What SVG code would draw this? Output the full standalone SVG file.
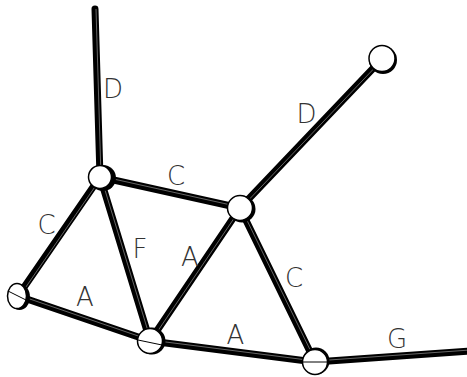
<svg xmlns="http://www.w3.org/2000/svg" width="467" height="377" viewBox="0 0 467 377">
<style>
.bar{stroke:#000;stroke-width:7;stroke-linecap:round;fill:none}
.hl{stroke:#fff;stroke-width:0.8;stroke-opacity:0.5;fill:none}
.sh{fill:#000}
.nd{fill:#fff;stroke:#000;stroke-width:1.5}
.ln{stroke:#000;stroke-width:1;fill:none}
.lbl{font-family:"DejaVu Sans","Liberation Sans",sans-serif;font-weight:200;font-size:26px;fill:#333;text-anchor:middle;dominant-baseline:central}
</style>
<rect width="467" height="377" fill="#fff"/>
<g id="connectors">
<line class="bar" x1="95" y1="9" x2="100" y2="177"/>
<line class="bar" x1="100" y1="177" x2="240" y2="208"/>
<line class="bar" x1="100" y1="177" x2="18" y2="296"/>
<line class="bar" x1="100" y1="177" x2="150" y2="341"/>
<line class="bar" x1="18" y1="296" x2="150" y2="341"/>
<line class="bar" x1="150" y1="341" x2="240" y2="208"/>
<line class="bar" x1="240" y1="208" x2="382" y2="59"/>
<line class="bar" x1="240" y1="208" x2="315" y2="362"/>
<line class="bar" x1="150" y1="341" x2="315" y2="362"/>
<line class="bar" x1="315" y1="362" x2="470" y2="351"/>
<line class="hl" x1="96" y1="9" x2="101" y2="177"/>
<line class="hl" x1="100" y1="176" x2="240" y2="207"/>
<line class="hl" x1="101" y1="178" x2="19" y2="297"/>
<line class="hl" x1="101" y1="177" x2="151" y2="341"/>
<line class="hl" x1="18" y1="295" x2="150" y2="340"/>
<line class="hl" x1="151" y1="341" x2="241" y2="208"/>
<line class="hl" x1="241" y1="208" x2="383" y2="59"/>
<line class="hl" x1="241" y1="208" x2="316" y2="362"/>
<line class="hl" x1="150" y1="340" x2="315" y2="361"/>
<line class="hl" x1="315" y1="361" x2="470" y2="350"/>
</g>
<g id="n1"><circle class="sh" cx="103" cy="178" r="13"/><circle class="nd" cx="100" cy="177" r="11.5"/></g>
<g id="n2"><ellipse class="sh" cx="19.5" cy="297" rx="10.5" ry="13"/><ellipse class="nd" cx="17" cy="296" rx="9.5" ry="12.5"/><line class="ln" x1="8" y1="291" x2="26" y2="300"/></g>
<g id="n3"><circle class="sh" cx="152" cy="341" r="13.5"/><circle class="nd" cx="150" cy="341" r="12.5"/><line class="ln" x1="138" y1="340" x2="162" y2="345"/></g>
<g id="n4"><circle class="sh" cx="242" cy="209" r="13.5"/><circle class="nd" cx="240" cy="208" r="12.5"/></g>
<g id="n5"><circle class="sh" cx="316" cy="361" r="13.5"/><circle class="nd" cx="315" cy="362" r="12.5"/><line class="ln" x1="302" y1="362" x2="328" y2="362"/></g>
<g id="n6"><circle class="sh" cx="383" cy="60" r="14"/><circle class="nd" cx="382" cy="58.5" r="13"/></g>
<g id="labels">
<text class="lbl" x="113" y="89">D</text>
<text class="lbl" x="306.5" y="114">D</text>
<text class="lbl" x="176" y="176">C</text>
<text class="lbl" x="46.5" y="225">C</text>
<text class="lbl" x="140" y="249">F</text>
<text class="lbl" x="190" y="257">A</text>
<text class="lbl" x="294" y="278">C</text>
<text class="lbl" x="85" y="297">A</text>
<text class="lbl" x="235.5" y="335">A</text>
<text class="lbl" x="397" y="339">G</text>
</g>
</svg>
